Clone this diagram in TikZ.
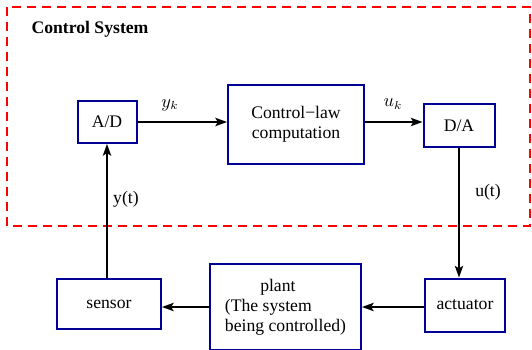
\documentclass[tikz,border=0pt]{standalone}
\usepackage{fontspec}
\setmainfont{Liberation Serif}
\usetikzlibrary{arrows.meta}

\definecolor{boxblue}{RGB}{0,0,150}

\tikzset{
  block/.style={draw=boxblue, line width=1.2pt, fill=white, align=center,
                inner sep=2pt},
  sig/.style={line width=1pt, -{Stealth[length=7pt,width=5pt,inset=1.5pt]}},
  sysframe/.style={draw=red, line width=1.2pt, dash pattern=on 5.4pt off 3.6pt},
}

\begin{document}
\begin{tikzpicture}[x=0.6pt, y=-0.6pt, font=\fontsize{10.6}{12}\selectfont]
  \useasboundingbox (0,0) rectangle (532,349);

  % Cadre du systeme de commande
  \draw[sysframe] (7,7) rectangle (530,226);
  \node[font=\fontsize{10.6}{12}\selectfont\bfseries] (title) at (90,29) {Control System};

  % Blocs du calculateur
  \node[block, minimum width=35.4pt, minimum height=25.2pt] (ad) at (107,122) {A/D};
  \node[block, minimum width=81.6pt, minimum height=47.4pt] (ctrl) at (296,124.5)
       {Control\textminus law\\computation};
  \node[block, minimum width=42.6pt, minimum height=25.8pt] (da) at (459,125.5) {D/A};

  % Blocs du procede
  \node[block, minimum width=48pt, minimum height=31.8pt] (act) at (465,305) {actuator};
  \node[block, align=left, minimum width=90.6pt, minimum height=51.6pt] (plant) at (285.5,307)
       {\hspace*{2em}plant\\(The system\\being controlled)};
  \node[block, minimum width=62.4pt, minimum height=30pt] (sensor) at (109,304) {sensor};

  % Liaisons
  \draw[sig] (ad) -- (ad -| ctrl.west);
  \draw[sig] (ad -| ctrl.east) -- (ad -| da.west);
  \draw[sig] (da.south) -- (da.south |- act.north);
  \draw[sig] (act.west |- plant) -- (plant.east);
  \draw[sig] (plant.west) -- (plant.west -| sensor.east);
  \draw[sig] (ad.south |- sensor.north) -- (ad.south);

  % Etiquettes des signaux
  \node (yk) at (170,105) {$y_k$};
  \node (uk) at (393,104) {$u_k$};
  \node (yt) at (126,199) {y(t)};
  \node (ut) at (488,192) {u(t)};
\end{tikzpicture}
\end{document}
